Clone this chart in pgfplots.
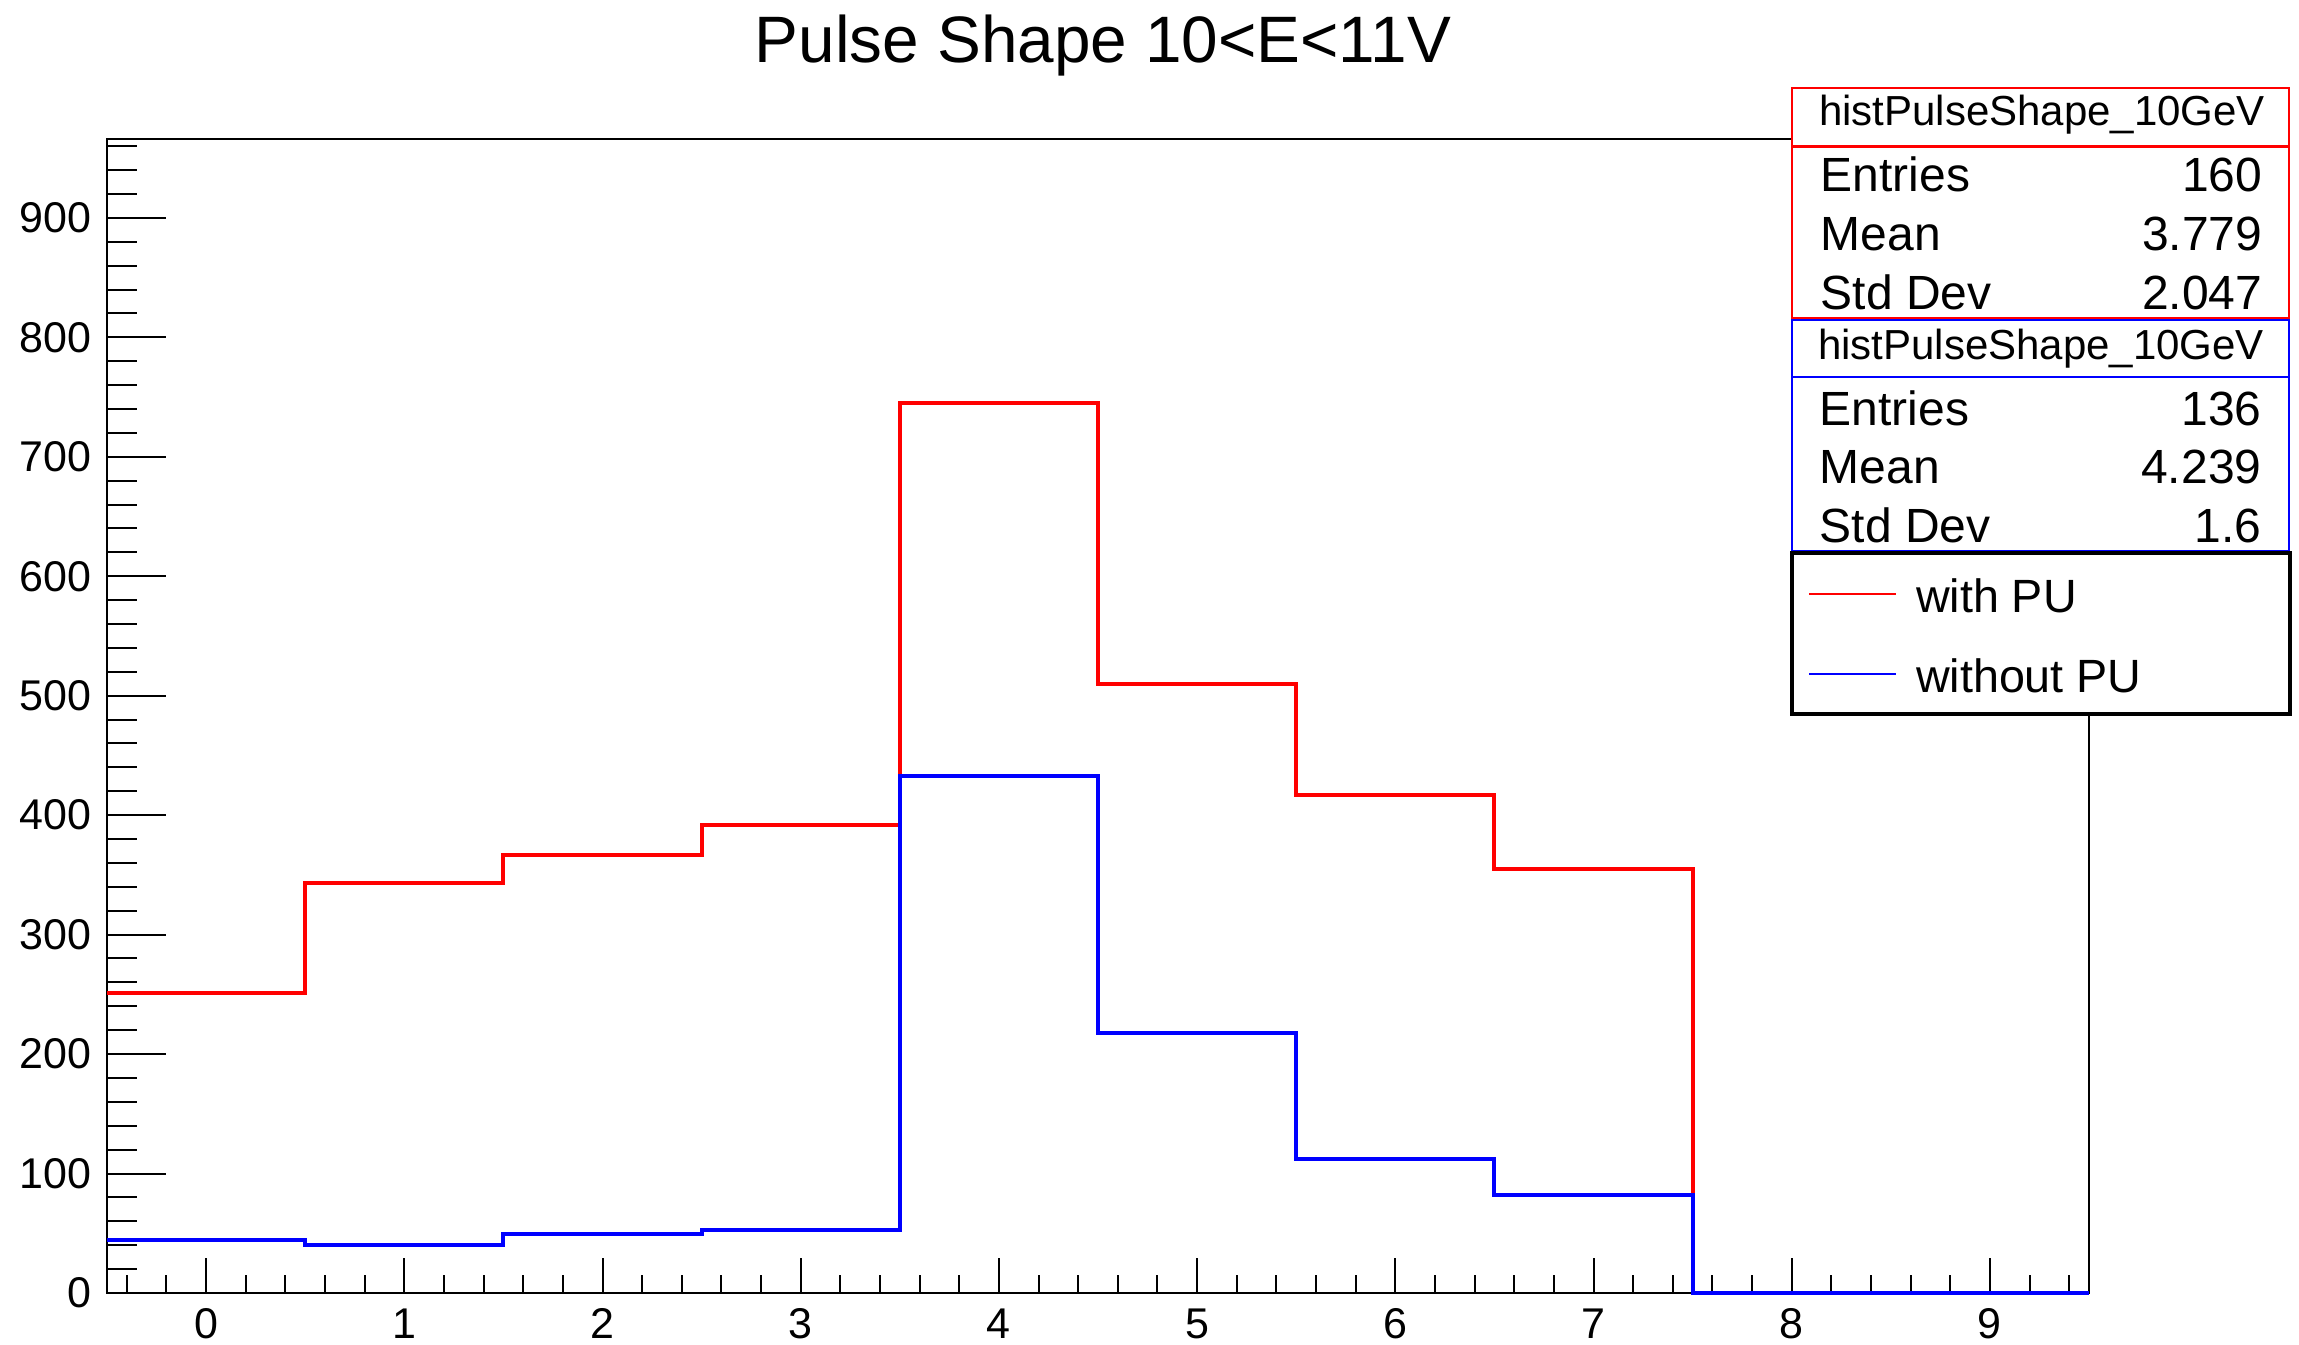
\documentclass[border=0pt]{standalone}
\usepackage{fontspec}
\setmainfont{Liberation Sans}
\usepackage{pgfplots}
\pgfplotsset{compat=1.18}

% picture is laid out at 0.3pt per reference pixel
\newcommand\titlefont{\fontsize{19.7}{22}\selectfont}
\newcommand\tickfont{\fontsize{12.9}{15}\selectfont}
\newcommand\statfont{\fontsize{14.4}{16}\selectfont}
\newcommand\headfont{\fontsize{12.6}{14}\selectfont}
\newcommand\legfont{\fontsize{14}{16}\selectfont}

\begin{document}
\begin{tikzpicture}
\useasboundingbox (0,0) rectangle (689.7pt,403.5pt);
\begin{axis}[
    at={(32.1pt,15.6pt)}, anchor=south west,
    scale only axis,
    width=594.6pt, height=346.2pt,
    xmin=-0.5, xmax=9.5,
    ymin=0, ymax=966,
    xtick={0,1,...,9},
    ytick={0,100,...,900},
    minor xtick={-0.4,-0.2,...,9.45},
    minor ytick={20,40,...,960},
    tick align=inside,
    xtick pos=bottom, ytick pos=left,
    xtick style={/pgfplots/major tick length=10.5pt, /pgfplots/minor tick length=5.3pt},
    ytick style={/pgfplots/major tick length=17.7pt, /pgfplots/minor tick length=9pt},
    every tick/.append style={black, line width=0.6pt},
    axis line style={line width=0.6pt},
    ticklabel style={font=\tickfont},
    xticklabel style={anchor=north, inner sep=0pt, yshift=-4.5pt},
    yticklabel style={anchor=east, inner sep=0pt, xshift=-4.5pt},
    /pgf/number format/assume math mode=true,
    scaled y ticks=false,
    clip=false,
    legend style={draw=none, fill=none, inner sep=0pt, outer sep=0pt,
        at={(rel axis cs:0.85823,0.61958)}, anchor=north west,
        column sep=0pt, row sep=13.5pt, font=\legfont,
        nodes={inner sep=0pt, text height=10.5pt, text depth=0pt}},
    legend cell align=left,
    legend image code/.code={
        \draw[#1, line width=0.8pt] (0pt,0.4pt) -- (26.1pt,0.4pt);
        \path (31.4pt,0pt);
    },
]
\addplot[red, line width=1.2pt, const plot mark left] coordinates {
    (-0.5,251) (0.5,343) (1.5,367) (2.5,392) (3.5,745)
    (4.5,510) (5.5,417) (6.5,355) (7.5,0) (8.5,0) (9.5,0)
};
\addlegendentry{with PU}
\addplot[blue, line width=1.2pt, const plot mark left] coordinates {
    (-0.5,44) (0.5,40) (1.5,49) (2.5,53) (3.5,433)
    (4.5,218) (5.5,112) (6.5,82) (7.5,0) (8.5,0) (9.5,0)
};
\addlegendentry{without PU}

% stats box, with PU
\draw[red, line width=0.8pt, fill=white]
    (rel axis cs:0.85015,1.04419) rectangle (rel axis cs:1.10091,0.84489);
\draw[red, line width=0.8pt]
    (rel axis cs:0.85015,0.99341) -- (rel axis cs:1.10091,0.99341);
\node[anchor=base, font=\headfont, inner sep=0pt] at (rel axis cs:0.97629,1.01127) {histPulseShape\_10GeV};
\node[anchor=base west, font=\statfont, inner sep=0pt] at (rel axis cs:0.86428,0.95407) {Entries};
\node[anchor=base east, font=\statfont, inner sep=0pt] at (rel axis cs:1.08779,0.95407) {160};
\node[anchor=base west, font=\statfont, inner sep=0pt] at (rel axis cs:0.86428,0.90295) {Mean};
\node[anchor=base east, font=\statfont, inner sep=0pt] at (rel axis cs:1.08779,0.90295) {3.779};
\node[anchor=base west, font=\statfont, inner sep=0pt] at (rel axis cs:0.86428,0.85182) {Std Dev};
\node[anchor=base east, font=\statfont, inner sep=0pt] at (rel axis cs:1.08779,0.85182) {2.047};

% stats box, without PU
\draw[blue, line width=0.8pt, fill=white]
    (rel axis cs:0.85015,0.84315) rectangle (rel axis cs:1.10091,0.64298);
\draw[blue, line width=0.8pt]
    (rel axis cs:0.85015,0.79376) -- (rel axis cs:1.10091,0.79376);
\node[anchor=base, font=\headfont, inner sep=0pt] at (rel axis cs:0.97578,0.80849) {histPulseShape\_10GeV};
\node[anchor=base west, font=\statfont, inner sep=0pt] at (rel axis cs:0.86377,0.75130) {Entries};
\node[anchor=base east, font=\statfont, inner sep=0pt] at (rel axis cs:1.08729,0.75130) {136};
\node[anchor=base west, font=\statfont, inner sep=0pt] at (rel axis cs:0.86377,0.70104) {Mean};
\node[anchor=base east, font=\statfont, inner sep=0pt] at (rel axis cs:1.08729,0.70104) {4.239};
\node[anchor=base west, font=\statfont, inner sep=0pt] at (rel axis cs:0.86377,0.64991) {Std Dev};
\node[anchor=base east, font=\statfont, inner sep=0pt] at (rel axis cs:1.08729,0.64991) {1.6};

% legend frame
\draw[black, line width=1pt, fill=white]
    (rel axis cs:0.85015,0.64125) rectangle (rel axis cs:1.10141,0.50173);
\end{axis}
\node[anchor=base, font=\titlefont, inner sep=0pt] at (330.9pt,384.6pt) {Pulse Shape 10<E<11V};
\end{tikzpicture}
\end{document}
